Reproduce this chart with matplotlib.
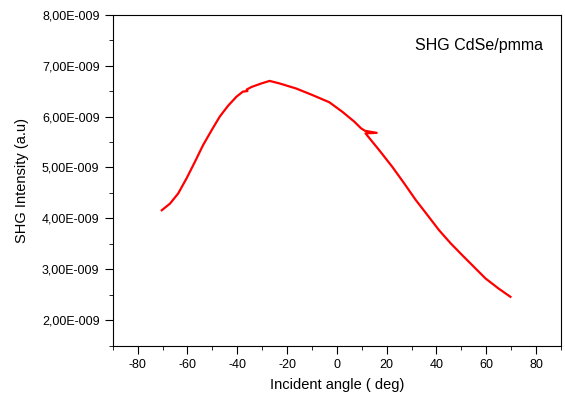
import matplotlib
matplotlib.use("Agg")
import matplotlib.pyplot as plt
from matplotlib.ticker import MultipleLocator, FuncFormatter

plt.rcParams['font.family'] = ['Liberation Sans', 'DejaVu Sans']
plt.rcParams['axes.unicode_minus'] = False

# angle (deg) and SHG intensity (units of 1e-9)
angle = [-70.3, -67.0, -63.7, -60.3, -57.0, -53.7, -50.3, -47.0, -43.7, -40.3,
         -37.7, -35.9, -36.2, -34.3, -30.3, -27.0, -23.0, -16.3, -9.7, -3.0,
         2.3, 7.0, 9.7, 11.3, 16.0, 11.5, 17.0, 22.3, 27.0, 31.7,
         36.3, 41.0, 45.7, 50.3, 55.0, 59.7, 65.0, 69.7]
intensity = [4.16, 4.29, 4.49, 4.79, 5.11, 5.44, 5.73, 6.00, 6.21, 6.39,
             6.49, 6.50, 6.53, 6.58, 6.65, 6.70, 6.65, 6.55, 6.42, 6.28,
             6.09, 5.90, 5.77, 5.72, 5.68, 5.67, 5.34, 5.01, 4.69, 4.36,
             4.07, 3.77, 3.51, 3.28, 3.05, 2.82, 2.62, 2.46]
intensity = [v * 1e-9 for v in intensity]

fig = plt.figure(figsize=(5.65, 4.01), dpi=100)
ax = fig.add_axes([112.7 / 565, 1 - 345.7 / 401, (561 - 112.7) / 565, (345.7 - 14.7) / 401])

ax.plot(angle, intensity, color='red', lw=1.6)

ax.set_xlim(-90, 90)
ax.set_ylim(1.5e-9, 8e-9)
ax.xaxis.set_major_locator(MultipleLocator(20))
ax.xaxis.set_minor_locator(MultipleLocator(10))
ax.yaxis.set_major_locator(MultipleLocator(1e-9))
ax.yaxis.set_minor_locator(MultipleLocator(0.5e-9))

def sci_comma(v, pos):
    if v <= 0:
        return '0'
    s = '%.2E' % v  # e.g. 8.00E-09
    mant, exp = s.split('E')
    e = int(exp)
    return '%sE%s%03d' % (mant.replace('.', ','), '-' if e < 0 else '+', abs(e))

ax.yaxis.set_major_formatter(FuncFormatter(sci_comma))
ax.tick_params(which='both', direction='out', top=False, right=False, labelsize=9)
ax.tick_params(which='major', length=5.5, pad=4)
ax.tick_params(which='minor', length=3)

ax.set_xlabel('Incident angle ( deg)', fontsize=10.5, labelpad=5)
ax.set_ylabel('SHG Intensity (a.u)', fontsize=10.5, labelpad=9)
ax.text(0.817, 0.908, 'SHG CdSe/pmma', transform=ax.transAxes,
        ha='center', va='center', fontsize=11.5)

fig.savefig('out.png', dpi=100)
